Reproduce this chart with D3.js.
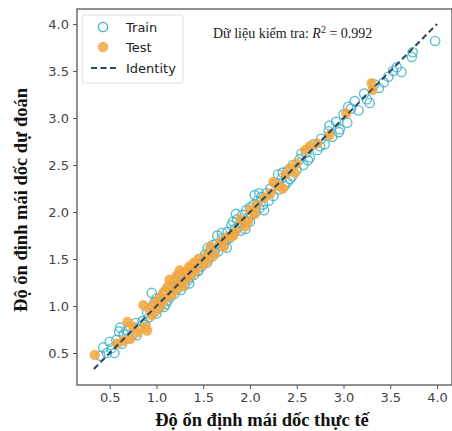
<!DOCTYPE html>
<html>
<head>
<meta charset="utf-8">
<script src="https://cdn.jsdelivr.net/npm/d3@7"></script>
<style>
  body { margin: 0; background: #fff; }
  svg { display: block; }
</style>
</head>
<body>
<div id="chart"></div>
<script>
// Train set: [actual, predicted]
const trainPoints = [
  [0.40,0.47],[0.43,0.56],[0.47,0.50],[0.50,0.62],[0.52,0.55],[0.55,0.50],[0.57,0.64],[0.60,0.73],
  [0.61,0.77],[0.63,0.60],[0.65,0.70],[0.68,0.74],[0.70,0.66],[0.72,0.78],[0.75,0.70],[0.78,0.82],
  [0.79,0.69],[0.82,0.78],[0.85,0.84],[0.88,0.80],[0.90,0.93],[0.92,0.88],[0.95,1.14],[0.96,1.00],
  [0.98,0.94],[1.00,1.08],[1.02,0.98],[1.05,1.04],[1.07,1.12],[1.08,0.99],[1.10,1.15],[1.12,1.06],
  [1.15,1.10],[1.17,1.20],[1.19,1.13],[1.22,1.18],[1.24,1.26],[1.26,1.17],[1.28,1.30],[1.30,1.22],
  [1.32,1.35],[1.34,1.28],[1.36,1.31],[1.38,1.40],[1.40,1.33],[1.42,1.45],[1.44,1.37],[1.46,1.50],
  [1.48,1.42],[1.50,1.47],[1.52,1.55],[1.54,1.46],[1.56,1.52],[1.58,1.60],[1.60,1.53],[1.62,1.57],
  [1.64,1.66],[1.66,1.58],[1.68,1.64],[1.70,1.72],[1.72,1.66],[1.74,1.70],[1.76,1.79],[1.78,1.72],
  [1.80,1.86],[1.82,1.77],[1.84,1.82],[1.86,1.92],[1.88,1.84],[1.90,1.88],[1.92,1.97],[1.94,1.90],
  [1.96,2.02],[1.98,1.94],[2.00,2.05],[2.02,1.97],[2.04,2.08],[2.06,2.00],[2.08,2.12],[2.10,2.04],
  [2.12,2.16],[2.14,2.08],[2.17,2.20],[2.20,2.12],[2.22,2.25],[2.25,2.17],[2.28,2.30],[2.31,2.24],
  [2.34,2.36],[2.37,2.28],[2.40,2.44],[2.43,2.35],[2.46,2.50],[2.50,2.45],[2.53,2.56],[2.57,2.50],
  [2.60,2.63],[2.64,2.58],[2.68,2.72],[2.72,2.66],[2.76,2.78],[2.80,2.72],[2.84,2.86],[2.88,2.80],
  [2.92,2.96],[2.96,2.88],[3.00,3.04],[3.04,2.95],[3.08,3.10],[3.12,3.18],[3.16,3.08],[3.22,3.26],
  [3.28,3.16],[3.33,3.36],[3.38,3.32],[3.43,3.38],[3.48,3.44],[3.53,3.50],[3.57,3.54],[3.62,3.49],
  [3.73,3.65],[3.74,3.70],[3.98,3.82],
  [1.65,1.75],[1.75,1.62],[1.85,1.98],[1.95,1.82],[2.05,2.18],[2.15,2.02],[1.55,1.62],[1.45,1.38],
  [1.25,1.33],[1.35,1.24],[2.30,2.40],[2.45,2.38],[2.55,2.62],[2.75,2.70],[2.85,2.92],[2.95,2.85],
  [3.05,3.12],[3.25,3.20],[1.10,1.02],[1.20,1.28],[0.98,1.04],[1.00,0.92],[1.12,1.20],[1.82,1.90],
  [1.90,1.80],[2.00,1.90],[2.10,2.20],[1.70,1.78],[1.60,1.65],[2.35,2.42],[2.62,2.55],[2.40,2.32]
];

// Test set: [actual, predicted]
const testPoints = [
  [0.34,0.48],[0.58,0.60],[0.65,0.63],[0.69,0.83],[0.72,0.65],[0.75,0.78],[0.80,0.72],[0.86,1.01],
  [0.88,0.78],[0.90,0.74],[0.92,0.97],[0.95,0.90],[0.98,1.03],[1.00,0.96],[1.03,1.08],[1.05,1.00],
  [1.08,1.15],[1.10,1.08],[1.12,1.20],[1.14,1.28],[1.16,1.12],[1.18,1.24],[1.20,1.17],[1.22,1.33],
  [1.25,1.38],[1.26,1.25],[1.28,1.21],[1.30,1.36],[1.32,1.29],[1.35,1.42],[1.37,1.33],[1.40,1.46],
  [1.42,1.38],[1.45,1.50],[1.50,1.44],[1.54,1.54],[1.55,1.48],[1.58,1.63],[1.62,1.55],[1.68,1.68],
  [1.72,1.63],[1.75,1.73],[1.78,1.74],[1.82,1.75],[1.85,1.80],[1.90,1.92],[1.95,1.85],[2.00,2.02],
  [2.07,2.07],[2.15,2.15],[2.22,2.20],[2.30,2.28],[2.38,2.40],[2.43,2.47],[2.50,2.52],[2.59,2.66],
  [2.64,2.70],[2.72,2.73],[2.85,2.82],[3.03,3.05],[3.30,3.37],[3.31,3.30],[2.35,2.25],[2.48,2.42],
  [2.25,2.32],[1.98,1.90],[2.05,1.98],[1.36,1.40]
];

const identityRange = [0.33, 4.0];
const tickValues = [0.5, 1.0, 1.5, 2.0, 2.5, 3.0, 3.5, 4.0];
const legendLabels = ['Train', 'Test', 'Identity'];
const r2Text = '0.992';

const width = 452, height = 431;
const margin = { top: 9, right: 0, bottom: 46, left: 77 };

const trainColour = '#3fb3c6';
const testColour = '#f5a63f';
const lineColour = '#2a4a5a';

const svg = d3.select('#chart').append('svg')
  .attr('width', width)
  .attr('height', height);

const x = d3.scaleLinear().domain([0.15, 4.16]).range([margin.left, width - margin.right]);
const y = d3.scaleLinear().domain([0.16, 4.16]).range([height - margin.bottom, margin.top]);

// Frame
svg.append('rect')
  .attr('x', margin.left)
  .attr('y', margin.top)
  .attr('width', width - margin.right - margin.left)
  .attr('height', height - margin.bottom - margin.top)
  .attr('fill', 'none')
  .attr('stroke', '#555')
  .attr('stroke-width', 1.3);

// Axes
const xAxis = svg.append('g')
  .attr('transform', `translate(0,${height - margin.bottom})`)
  .call(d3.axisBottom(x).tickValues(tickValues).tickFormat(d3.format('.1f')).tickSize(4).tickPadding(4));
const yAxis = svg.append('g')
  .attr('transform', `translate(${margin.left},0)`)
  .call(d3.axisLeft(y).tickValues(tickValues).tickFormat(d3.format('.1f')).tickSize(4).tickPadding(4));

[xAxis, yAxis].forEach(a => {
  a.select('.domain').remove();
  a.selectAll('.tick line').attr('stroke', '#555');
  a.selectAll('.tick text')
    .attr('fill', '#444')
    .style('font-family', 'DejaVu Sans, sans-serif')
    .style('font-size', '13px');
});

// Train markers (hollow)
svg.append('g')
  .selectAll('circle')
  .data(trainPoints)
  .join('circle')
  .attr('cx', d => x(d[0]))
  .attr('cy', d => y(d[1]))
  .attr('r', 4.6)
  .attr('fill', 'none')
  .attr('stroke', trainColour)
  .attr('stroke-opacity', 0.85)
  .attr('stroke-width', 1.4);

// Test markers (filled)
svg.append('g')
  .selectAll('circle')
  .data(testPoints)
  .join('circle')
  .attr('cx', d => x(d[0]))
  .attr('cy', d => y(d[1]))
  .attr('r', 5.2)
  .attr('fill', testColour)
  .attr('fill-opacity', 0.85);

// Identity line
svg.append('line')
  .attr('x1', x(identityRange[0]))
  .attr('y1', y(identityRange[0]))
  .attr('x2', x(identityRange[1]))
  .attr('y2', y(identityRange[1]))
  .attr('stroke', lineColour)
  .attr('stroke-width', 2)
  .attr('stroke-dasharray', '6,3.5');

// Legend
const legend = svg.append('g').attr('transform', 'translate(82,15)');
legend.append('rect')
  .attr('width', 101)
  .attr('height', 68)
  .attr('rx', 3)
  .attr('fill', '#fff')
  .attr('fill-opacity', 0.85)
  .attr('stroke', '#ddd');

const rowY = [12, 32, 53];
legend.append('circle')
  .attr('cx', 21).attr('cy', rowY[0]).attr('r', 4.6)
  .attr('fill', 'none').attr('stroke', trainColour).attr('stroke-width', 1.4);
legend.append('circle')
  .attr('cx', 21).attr('cy', rowY[1]).attr('r', 5.2)
  .attr('fill', testColour).attr('fill-opacity', 0.85);
legend.append('line')
  .attr('x1', 9).attr('x2', 34).attr('y1', rowY[2]).attr('y2', rowY[2])
  .attr('stroke', lineColour).attr('stroke-width', 2).attr('stroke-dasharray', '6,3.5');

legend.selectAll('text.lab')
  .data(legendLabels)
  .join('text')
  .attr('class', 'lab')
  .attr('x', 44)
  .attr('y', (d, i) => rowY[i])
  .attr('dy', '0.35em')
  .attr('fill', '#222')
  .style('font-family', 'DejaVu Sans, sans-serif')
  .style('font-size', '13px')
  .text(d => d);

// R² annotation
const ann = svg.append('text')
  .attr('x', 213)
  .attr('y', 38)
  .attr('fill', '#222')
  .style('font-family', 'Liberation Serif, serif')
  .style('font-size', '14px');
ann.append('tspan').text('Dữ liệu kiểm tra: ');
ann.append('tspan').style('font-style', 'italic').text('R');
ann.append('tspan').attr('dy', -5).style('font-size', '10px').text('2');
ann.append('tspan').attr('dy', 5).text(' = ' + r2Text);

// Axis labels
svg.append('text')
  .attr('x', 262)
  .attr('y', 426)
  .attr('text-anchor', 'middle')
  .attr('fill', '#111')
  .style('font-family', 'Liberation Serif, serif')
  .style('font-weight', 'bold')
  .style('font-size', '18.5px')
  .text('Độ ổn định mái dốc thực tế');

svg.append('text')
  .attr('transform', 'translate(27,200) rotate(-90)')
  .attr('text-anchor', 'middle')
  .attr('fill', '#111')
  .style('font-family', 'Liberation Serif, serif')
  .style('font-weight', 'bold')
  .style('font-size', '18.5px')
  .text('Độ ổn định mái dốc dự đoán');
</script>
</body>
</html>
